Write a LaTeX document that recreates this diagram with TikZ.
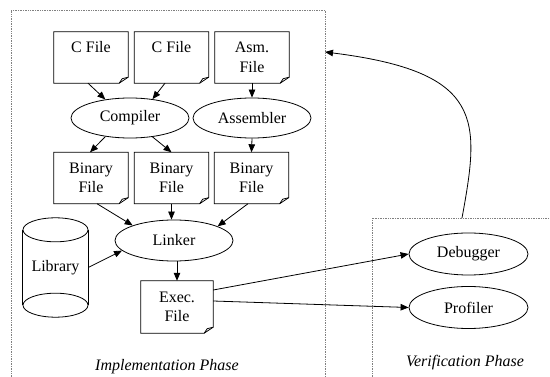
\documentclass[tikz,border=0pt]{standalone}
\usepackage{fontspec}
\setmainfont{Liberation Serif}
\usetikzlibrary{shapes.geometric,arrows.meta}
\begin{document}
\begin{tikzpicture}[x=1pt,y=-1pt,
  every node/.style={font=\fontsize{16}{19.5}\selectfont},
  docbox/.style={rectangle, minimum width=74pt, minimum height=51pt, inner sep=0pt, align=center},
  proc/.style={ellipse, draw, line width=0.8pt, minimum width=118pt, minimum height=40pt, inner sep=0pt},
  edge/.style={line width=0.8pt, -{Triangle[length=8pt,width=6.5pt]}},
  cluster/.style={densely dotted, gray, line width=0.7pt},
  phase/.style={font=\fontsize{16}{19.5}\selectfont\itshape},
  outline/.style={line width=0.8pt, line join=miter}
]
\useasboundingbox (0,0) rectangle (550,377);

% cluster frames
\draw[cluster] (11,377) -- (11,10) -- (325,10) -- (325,377);
\draw[cluster] (372,377) -- (372,218) -- (550,218);
\coordinate (impedge) at (325,52);
\coordinate (vertop) at (462,218);

% source files
\node[docbox] (c1) at (91,57.5) {\raisebox{10pt}[\height][\depth]{C File}};
\node[docbox] (c2) at (171.5,57.5) {\raisebox{10pt}[\height][\depth]{C File}};
\node[docbox] (asm) at (252,57.5) {Asm.\\File};

% tools
\node[proc] (comp) at (130,118) {Compiler};
\node[proc] (asmb) at (252,118) {Assembler};

% object files
\node[docbox] (b1) at (91,178) {Binary\\File};
\node[docbox] (b2) at (171.5,178) {Binary\\File};
\node[docbox] (b3) at (251.5,178) {Binary\\File};

\node[proc, minimum height=41pt] (linker) at (174,240.5) {Linker};
\node[rectangle, minimum width=65pt, minimum height=99pt, inner sep=0pt] (lib) at (55.5,267.5) {Library};
\node[docbox, minimum width=72pt, minimum height=52pt] (exe) at (177,307) {Exec.\\File};

% verification tools
\node[proc, minimum width=119pt, minimum height=42pt] (dbg) at (468.5,254) {Debugger};
\node[proc, minimum width=119pt, minimum height=42pt] (prof) at (468.5,307.5) {Profiler};

% phase labels
\node[phase] (implabel) at (167,367) {Implementation Phase};
\node[phase] (verlabel) at (465,363) {Verification Phase};

% document outlines with folded corner
\foreach \n in {c1,c2,asm,b1,b2,b3,exe}{
  \draw[outline] (\n.north west) -- (\n.north east) -- ([yshift=6pt]\n.south east)
     -- ([xshift=-9pt]\n.south east) -- (\n.south west) -- cycle;
  \draw[outline] ([xshift=-9pt]\n.south east) -- ([xshift=-6pt,yshift=4.5pt]\n.south east)
     -- ([yshift=6pt]\n.south east);
}

% library cylinder
\draw[outline] ([yshift=-12pt]lib.north) ellipse [x radius=32.5pt, y radius=12pt];
\draw[outline] ([yshift=12pt]lib.south) ellipse [x radius=32.5pt, y radius=12pt];
\draw[outline] ([yshift=-12pt]lib.north west) -- ([yshift=12pt]lib.south west);
\draw[outline] ([yshift=-12pt]lib.north east) -- ([yshift=12pt]lib.south east);

% connectors
\draw[edge] ([xshift=-3pt]c1.south) -- (comp.143);
\draw[edge] ([xshift=-6.5pt]c2.south) -- (comp.40);
\draw[edge] (asm.south) -- (asmb.north);
\draw[edge] (comp.217) -- ([xshift=-1pt]b1.north);
\draw[edge] (comp.320) -- (b2.north);
\draw[edge] (asmb.south) -- (b3.north);
\draw[edge] ([xshift=6pt]b1.south) -- (linker.160);
\draw[edge] (b2.south) -- (b2.south |- linker.north);
\draw[edge] ([xshift=-3.5pt]b3.south) -- (linker.18);
\draw[edge] (lib.east) -- (linker.191);
\draw[edge] (linker.south -| exe.north) -- (exe.north);
\draw[edge] ([yshift=17pt]exe.east) -- (dbg.west);
\draw[edge] ([yshift=6pt]exe.east) -- (prof.west);
\draw[edge] (vertop) .. controls (480,120) and (485,72) .. (impedge);
\end{tikzpicture}
\end{document}
